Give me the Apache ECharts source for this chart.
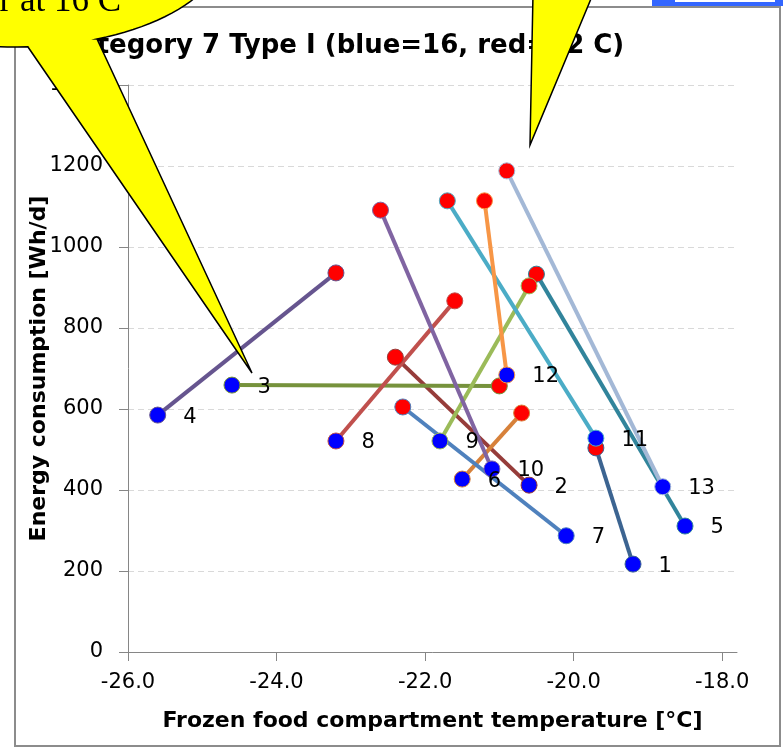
<!DOCTYPE html>
<html>
<head>
<meta charset="utf-8">
<script src="https://cdn.jsdelivr.net/npm/echarts@6/dist/echarts.min.js"></script>
<style>
  html, body { margin: 0; padding: 0; background: #fff; }
  #chart { width: 783px; height: 749px; }
</style>
</head>
<body>
<div id="chart"></div>
<script>
// ---- data ----
const unitLabels = ['1','2','3','4','5','6','7','8','9','10','11','12','13'];
// blue = 16 C ambient
const blueTemp   = [-19.2, -20.6, -24.6, -25.6, -18.5, -21.5, -20.1, -23.2, -21.8, -21.1, -19.7, -20.9, -18.8];
const blueEnergy = [217, 412, 659, 585, 311, 427, 287, 521, 521, 452, 528, 684, 408];
// red = 32 C ambient
const redTemp    = [-19.7, -22.4, -21.0, -23.2, -20.5, -20.7, -22.3, -21.6, -20.6, -22.6, -21.7, -21.2, -20.9];
const redEnergy  = [504, 728, 657, 936, 933, 590, 605, 867, 904, 1091, 1114, 1114, 1188];
const xTickValues = [-26, -24, -22, -20, -18];
const titleText = 'Category 7 Type I (blue=16, red=32 C)';
const xName = 'Frozen food compartment temperature [°C]';
const yName = 'Energy consumption [Wh/d]';

const palette = ['#3C6491', '#963C3A', '#76923C', '#66558F', '#31849B', '#D7813A', '#4F81BD',
                 '#C0504D', '#9BBB59', '#8064A2', '#4BACC6', '#F79646', '#A3B8D6'];
const FONT = 'DejaVu Sans';

const series = blueTemp.map((bx, i) => ({
  name: unitLabels[i],
  type: 'line',
  symbol: 'circle',
  symbolSize: 16,
  lineStyle: { color: palette[i], width: 4 },
  itemStyle: { borderColor: palette[i], borderWidth: 1 },
  emphasis: { disabled: true },
  label: {
    show: false, position: 'right', distance: 17, offset: [0, 2],
    formatter: unitLabels[i], fontSize: 21, color: '#000', fontFamily: FONT
  },
  data: [
    { value: [bx, blueEnergy[i]], itemStyle: { color: '#0000FF' }, label: { show: true } },
    { value: [redTemp[i], redEnergy[i]], itemStyle: { color: '#FF0000' } }
  ]
}));

// decorative speech-balloon overlay (present in the reference picture)
function balloonPoints() {
  const cx = 15, cy = -53, rx = 209, ry = 100;
  const pts = [[252, 373], [28, 47]];
  const t0 = 1.509, t1 = 1.168 + 2 * Math.PI;
  for (let k = 0; k <= 120; k++) {
    const t = t0 + (t1 - t0) * k / 120;
    pts.push([cx + rx * Math.cos(t), cy + ry * Math.sin(t)]);
  }
  pts.push([97, 39]);
  return pts;
}

const chart = echarts.init(document.getElementById('chart'), null, { renderer: 'canvas' });
chart.setOption({
  animation: false,
  backgroundColor: '#ffffff',
  textStyle: { fontFamily: FONT },
  title: {
    text: titleText, left: 60, top: 33, padding: 0,
    textStyle: { fontSize: 26, fontWeight: 'bold', color: '#000', fontFamily: FONT }
  },
  grid: { left: 128, right: 46, top: 85, bottom: 97 },
  xAxis: {
    type: 'value', min: -26, max: -17.8, interval: 2,
    name: xName, nameLocation: 'middle', nameGap: 58, nameMoveOverlap: false,
    nameTextStyle: { fontSize: 22, fontWeight: 'bold', color: '#000', fontFamily: FONT },
    axisLine: { show: true, onZero: false, lineStyle: { color: '#868686', width: 1 } },
    axisTick: { show: true, length: 9, customValues: xTickValues, lineStyle: { color: '#868686' } },
    axisLabel: { customValues: xTickValues, formatter: v => v.toFixed(1), fontSize: 21, color: '#000', margin: 20, fontFamily: FONT },
    splitLine: { show: false }
  },
  yAxis: {
    type: 'value', min: 0, max: 1400, interval: 200,
    name: yName, nameLocation: 'middle', nameGap: 78, nameRotate: 90, nameMoveOverlap: false,
    nameTextStyle: { fontSize: 22, fontWeight: 'bold', color: '#000', fontFamily: FONT },
    axisLine: { show: true, lineStyle: { color: '#868686', width: 1 } },
    axisTick: { show: true, length: 9, lineStyle: { color: '#868686' } },
    axisLabel: { formatter: v => String(v), fontSize: 21, color: '#000', margin: 25, fontFamily: FONT },
    splitLine: { show: true, lineStyle: { color: '#D9D9D9', type: [6, 4], width: 1 } }
  },
  series: series,
  graphic: {
    elements: [
      { type: 'rect', z: 90, silent: true,
        shape: { x: 15, y: 7, width: 765, height: 739 },
        style: { fill: 'none', stroke: '#8C8C8C', lineWidth: 2 } },
      { type: 'rect', z: 100, silent: true,
        shape: { x: 652, y: -4, width: 140, height: 10 },
        style: { fill: '#3366FF' } },
      { type: 'rect', z: 101, silent: true,
        shape: { x: 675, y: -4, width: 100, height: 6 },
        style: { fill: '#FFFFFF' } },
      { type: 'polygon', z: 100, silent: true,
        shape: { points: balloonPoints() },
        style: { fill: '#FFFF00', stroke: '#000000', lineWidth: 1.5 } },
      { type: 'text', z: 102, silent: true,
        style: { text: 'r at 16 C', x: 121, y: 19, textAlign: 'right', textVerticalAlign: 'bottom',
                 font: '35px "Liberation Serif"', fill: '#000' } },
      { type: 'polygon', z: 100, silent: true,
        shape: { points: [[533, -6], [530, 145], [593, -6]] },
        style: { fill: '#FFFF00', stroke: '#000000', lineWidth: 1.5 } }
    ]
  }
});
</script>
</body>
</html>
